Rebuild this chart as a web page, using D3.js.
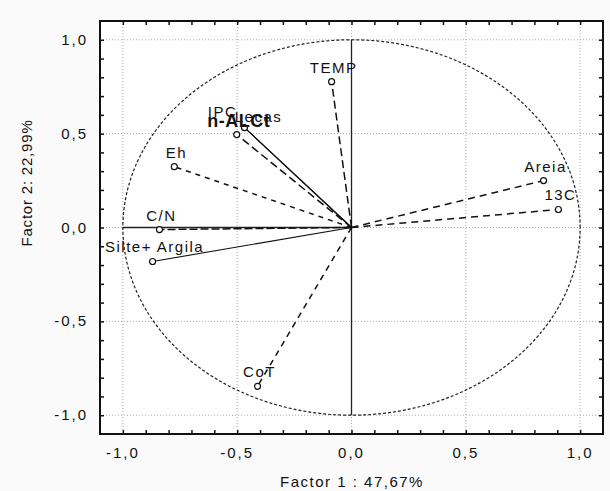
<!DOCTYPE html>
<html><head><meta charset="utf-8">
<script src="https://cdn.jsdelivr.net/npm/d3@7"></script>
<style>
html,body{margin:0;padding:0;background:#fafafa;}
text{font-family:"Liberation Sans",Arial,sans-serif;fill:#111;}
</style></head>
<body>
<svg id="chart" width="610" height="491"></svg>
<script>
// ---- data ----
const variables = ["TEMP","IPC","Lecas","n-ALCt","Eh","C/N","Silte+ Argila","Areia","13C","CoT"];
const factor1 = [-0.087,-0.468,-0.468,-0.502,-0.775,-0.840,-0.870,0.840,0.905,-0.411];
const factor2 = [0.777,0.532,0.532,0.495,0.324,-0.011,-0.181,0.250,0.096,-0.846];
const tickValues = [-1.0,-0.5,0.0,0.5,1.0];
const tickLabels = ["-1,0","-0,5","0,0","0,5","1,0"];
const xTitle = "Factor 1 : 47,67%";
const yTitle = "Factor 2: 22,99%";

// ---- styles (not data) ----
const lineDash = {"TEMP":"8,4","IPC":null,"Lecas":null,"n-ALCt":"8,4","Eh":"5,5","C/N":"8,3",
  "Silte+ Argila":null,"Areia":"7,5","13C":"7,5","CoT":"6,5"};
const labelOffset = {"IPC":[-22,-11],"Lecas":[14,-6],"n-ALCt":[2,-8]};
const drawPoint = {"IPC":false};

const svg = d3.select("#chart");
const L=100, R=603, T=21, B=434;
const x = d3.scaleLinear().domain([-1.1,1.1]).range([L,R]);
const y = d3.scaleLinear().domain([-1.1,1.1]).range([B,T]);

svg.append("rect").attr("x",L).attr("y",T).attr("width",R-L).attr("height",B-T).attr("fill","#fff");

// grid
const g = svg.append("g");
tickValues.forEach(v=>{
  g.append("line").attr("x1",x(v)).attr("x2",x(v)).attr("y1",T).attr("y2",B)
   .attr("stroke","#aaa").attr("stroke-width",1).attr("stroke-dasharray","1,2");
  g.append("line").attr("y1",y(v)).attr("y2",y(v)).attr("x1",L).attr("x2",R)
   .attr("stroke","#aaa").attr("stroke-width",1).attr("stroke-dasharray","1,2");
});

// unit circle
const circ = d3.range(0,361,1).map(a=>[Math.cos(a*Math.PI/180),Math.sin(a*Math.PI/180)]);
svg.append("path").datum(circ)
  .attr("d",d3.line().x(d=>x(d[0])).y(d=>y(d[1])))
  .attr("fill","none").attr("stroke","#222").attr("stroke-width",1.2).attr("stroke-dasharray","3,2");

// reference axes
svg.append("line").attr("x1",x(0)).attr("x2",x(0)).attr("y1",y(-1)).attr("y2",y(1))
  .attr("stroke","#222").attr("stroke-width",1.3);
svg.append("line").attr("x1",x(-1)).attr("x2",x(0)).attr("y1",y(0)).attr("y2",y(0))
  .attr("stroke","#222").attr("stroke-width",1.3);

// vectors
const data = variables.map((v,i)=>({name:v,x:factor1[i],y:factor2[i]}));
svg.append("g").selectAll("line").data(data).join("line")
  .attr("x1",x(0)).attr("y1",y(0)).attr("x2",d=>x(d.x)).attr("y2",d=>y(d.y))
  .attr("stroke","#111").attr("stroke-width",d=>lineDash[d.name]?1.5:1.1)
  .attr("stroke-dasharray",d=>lineDash[d.name]);
svg.append("g").selectAll("circle").data(data.filter(d=>drawPoint[d.name]!==false)).join("circle")
  .attr("cx",d=>x(d.x)).attr("cy",d=>y(d.y)).attr("r",3)
  .attr("fill","#fff").attr("stroke","#111").attr("stroke-width",1.2);
svg.append("g").selectAll("text").data(data).join("text")
  .attr("x",d=>x(d.x)+(labelOffset[d.name]?labelOffset[d.name][0]:2))
  .attr("y",d=>y(d.y)+(labelOffset[d.name]?labelOffset[d.name][1]:-9))
  .attr("text-anchor","middle")
  .attr("font-size",d=>d.name==="n-ALCt"?"18px":"15px")
  .attr("font-weight",d=>d.name==="n-ALCt"?"bold":"normal")
  .attr("letter-spacing",d=>d.name==="n-ALCt"?"0.5px":"1.5px")
  .text(d=>d.name);

// axes with inward ticks
const minor = d3.range(-10,11).map(i=>i/10);
const fmt = v=>tickLabels[tickValues.findIndex(t=>Math.abs(t-v)<1e-9)];
const axB = d3.axisBottom(x).tickValues(minor).tickSize(-4).tickFormat("");
const axT = d3.axisTop(x).tickValues(minor).tickSize(-4).tickFormat("");
const axL = d3.axisLeft(y).tickValues(minor).tickSize(-4).tickFormat("");
const axR = d3.axisRight(y).tickValues(minor).tickSize(-4).tickFormat("");
function style(sel){sel.select(".domain").remove();sel.selectAll("line").attr("stroke","#111").attr("stroke-width",1.5);}
svg.append("g").attr("transform",`translate(0,${B})`).call(axB).call(style);
svg.append("g").attr("transform",`translate(0,${T})`).call(axT).call(style);
svg.append("g").attr("transform",`translate(${L},0)`).call(axL).call(style);
svg.append("g").attr("transform",`translate(${R},0)`).call(axR).call(style);
svg.append("rect").attr("x",L).attr("y",T).attr("width",R-L).attr("height",B-T)
  .attr("fill","none").attr("stroke","#111").attr("stroke-width",2);

// tick labels
svg.append("g").selectAll("text").data(tickValues).join("text")
  .attr("x",d=>x(d)).attr("y",458).attr("text-anchor","middle")
  .attr("font-size","15px").attr("letter-spacing","2px").text(fmt);
svg.append("g").selectAll("text").data(tickValues).join("text")
  .attr("x",88).attr("y",d=>y(d)+5).attr("text-anchor","end")
  .attr("font-size","15px").attr("letter-spacing","2px").text(fmt);

svg.append("text").attr("x",352).attr("y",487).attr("text-anchor","middle")
  .attr("font-size","15px").attr("letter-spacing","1.5px").text(xTitle);
svg.append("text").attr("transform","translate(32,183) rotate(-90)").attr("text-anchor","middle")
  .attr("font-size","15px").attr("letter-spacing","0.8px").text(yTitle);
</script>
</body></html>
